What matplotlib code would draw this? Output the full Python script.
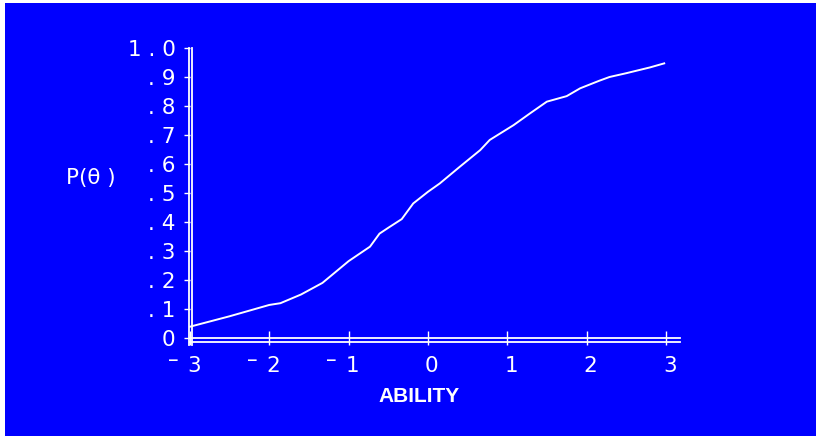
import matplotlib
matplotlib.use("Agg")
import matplotlib.pyplot as plt
from matplotlib.patches import Rectangle
from matplotlib.transforms import offset_copy

# item characteristic curve
ability = [-3.0, -2.5, -2.0, -1.86, -1.6, -1.33, -1.0, -0.73, -0.61, -0.5, -0.33,
           -0.185, 0.0, 0.15, 0.4, 0.66, 0.78, 1.08, 1.29, 1.5, 1.75, 1.92,
           2.16, 2.29, 2.5, 2.8, 2.98]
prob = [0.039, 0.075, 0.114, 0.12, 0.15, 0.19, 0.265, 0.315, 0.36, 0.38, 0.41,
        0.464, 0.504, 0.533, 0.59, 0.648, 0.683, 0.734, 0.775, 0.815, 0.834, 0.861,
        0.887, 0.90, 0.913, 0.933, 0.947]

xticks = [-3, -2, -1, 0, 1, 2, 3]
yticks = [0.0, 0.1, 0.2, 0.3, 0.4, 0.5, 0.6, 0.7, 0.8, 0.9, 1.0]
ylabels = ["0", ". 1", ". 2", ". 3", ". 4", ". 5", ". 6", ". 7", ". 8", ". 9", "1 . 0"]

BLUE = "#0000ff"
W, H = 816, 436
FS = 15.5

fig = plt.figure(figsize=(W / 100, H / 100), dpi=100, facecolor=BLUE)
# white strips on the top and left edge
fig.patches.append(Rectangle((0, 1 - 3 / H), 1, 3 / H, transform=fig.transFigure,
                             facecolor="white", edgecolor="none"))
fig.patches.append(Rectangle((0, 0), 5 / W, 1, transform=fig.transFigure,
                             facecolor="white", edgecolor="none"))

# axes box in pixels: x -3 at 190, right end 680; y 0 at 338, 1.0 at 48
left, right, top, bottom = 190, 680, 48, 338
ax = fig.add_axes([left / W, 1 - bottom / H, (right - left) / W, (bottom - top) / H])
ax.set_facecolor("none")
ax.set_xlim(-3, -3 + (right - left) / 79.3)
ax.set_ylim(0, 1.0)
for s in ax.spines.values():
    s.set_visible(False)

x0, x1 = ax.get_xlim()
ylow = -7 / 290
# double axis lines
ax.plot([x0, x1], [0, 0], color="white", lw=1.3, clip_on=False)
ax.plot([x0, x1], [0, 0], color="white", lw=1.3, clip_on=False,
        transform=offset_copy(ax.transData, fig=fig, x=0, y=-4, units="dots"))
ax.plot([x0, x0], [ylow, 1.0], color="white", lw=1.3, clip_on=False,
        transform=offset_copy(ax.transData, fig=fig, x=-1, y=0, units="dots"))
ax.plot([x0, x0], [ylow, 1.0], color="white", lw=1.3, clip_on=False,
        transform=offset_copy(ax.transData, fig=fig, x=2, y=0, units="dots"))

ax.plot(ability, prob, color="white", lw=1.4, clip_on=False)

ax.set_xticks(xticks)
ax.set_xticklabels([])
ax.set_yticks(yticks)
ax.set_yticklabels(ylabels, family="DejaVu Sans", fontsize=FS, color="white")
ax.tick_params(axis="x", direction="inout", length=9.5, width=1, color="white")
ax.tick_params(axis="y", direction="out", length=4.5, width=1, color="white", pad=6)
ax.xaxis.set_ticks_position("bottom")
ax.yaxis.set_ticks_position("left")

# x tick labels: digit just right of the tick, raised dash for negatives
for t in xticks:
    ax.annotate(str(abs(t)), xy=(t, 0), xycoords="data", xytext=(4, -28),
                textcoords="offset pixels", ha="center", va="center",
                family="DejaVu Sans", fontsize=FS, color="white", annotation_clip=False)
    if t < 0:
        ax.annotate("\u2013", xy=(t, 0), xycoords="data", xytext=(-17, -22),
                    textcoords="offset pixels", ha="center", va="center",
                    family="DejaVu Sans", fontsize=FS, color="white", annotation_clip=False)

fig.text(66 / W, 1 - 178 / H, "P(\u03b8 )", family="DejaVu Sans", fontsize=FS,
         color="white", ha="left", va="center")
fig.text(419 / W, 1 - 396 / H, "ABILITY", family="Liberation Sans",
         fontsize=15, fontweight="bold", color="white", ha="center", va="center")

fig.savefig("out.png", dpi=100, facecolor=fig.get_facecolor())
